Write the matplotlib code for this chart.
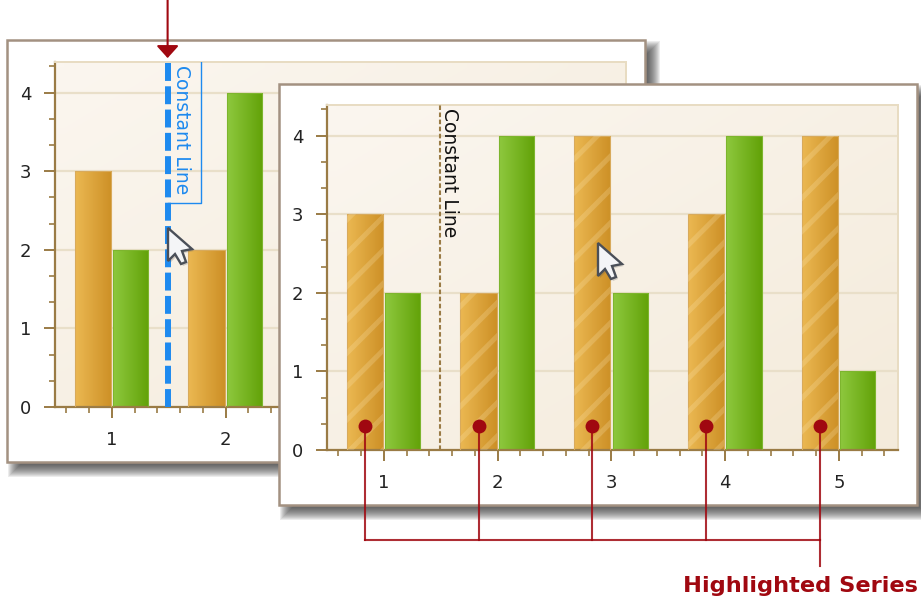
import numpy as np
import matplotlib
matplotlib.use('Agg')
import matplotlib.pyplot as plt
from matplotlib.patches import Rectangle, Polygon

W, H = 921, 603

categories = [1, 2, 3, 4, 5]
orange_values = [3, 2, 4, 3, 4]
green_values = [2, 4, 2, 4, 1]
constant_value = 1.49
marker_level = 0.31
callout_level = -1.15
callout_end = -1.47

AXIS_COLOR = '#9A7B45'
GRID_COLOR = '#E9DFC9'
BLUE = '#1E8AEF'
RED = '#A00810'

plt.rcParams['font.family'] = 'DejaVu Sans'
plt.rcParams['hatch.linewidth'] = 3.6


def pixel_axes(fig, left, top, right, bottom, zorder):
    ax = fig.add_axes([left / W, 1 - bottom / H, (right - left) / W, (bottom - top) / H])
    ax.set_zorder(zorder)
    return ax


def overlay_axes(fig, zorder):
    ax = pixel_axes(fig, 0, 0, W, H, zorder)
    ax.set_xlim(0, W)
    ax.set_ylim(H, 0)
    ax.axis('off')
    ax.patch.set_alpha(0)
    return ax


def draw_panel(ax, left, top, right, bottom):
    # soft drop shadow built from stacked translucent rectangles
    for grow in range(9, -7, -1):
        ax.add_patch(Rectangle((left + 10 - grow, top + 10 - grow),
                               right - left - 4 + 2 * grow, bottom - top - 4 + 2 * grow,
                               fc='#303030', ec='none', alpha=0.09))
    ax.add_patch(Rectangle((left, top), right - left, bottom - top,
                           fc='white', ec='#A39181', lw=1.8))


def gradient_bars(ax, xs, values, width, left_color, right_color, edge):
    ramp = np.linspace(0, 1, 64)[None, :, None]
    c0 = np.array(matplotlib.colors.to_rgb(left_color))[None, None, :]
    c1 = np.array(matplotlib.colors.to_rgb(right_color))[None, None, :]
    image = c0 * (1 - ramp) + c1 * ramp
    bars = ax.bar(xs, values, width=width, color='none', edgecolor=edge, lw=0.8, zorder=3)
    for bar in bars:
        x, w, h = bar.get_x(), bar.get_width(), bar.get_height()
        im = ax.imshow(image, extent=[x, x + w, 0, h], aspect='auto',
                       interpolation='bilinear', zorder=2)
        im.set_clip_path(bar)
    return bars


def draw_chart(ax, hatched):
    # plot area background, light towards the upper left
    yy, xx = np.mgrid[0:1:32j, 0:1:32j]
    shade = (xx * 0.5 + yy * 0.5)[..., None]
    c0 = np.array(matplotlib.colors.to_rgb('#FBF6EF'))
    c1 = np.array(matplotlib.colors.to_rgb('#F4EBDB'))
    ax.imshow(c0 * (1 - shade) + c1 * shade, extent=[0, 1, 0, 1], origin='upper',
              transform=ax.transAxes, aspect='auto', interpolation='bilinear', zorder=0)

    xs = np.array(categories, dtype=float)
    gradient_bars(ax, xs - 0.168, orange_values, 0.32, '#EBB852', '#CD9026', '#D8AA5C')
    gradient_bars(ax, xs + 0.165, green_values, 0.31, '#8EC83E', '#62A208', '#7DB52E')
    if hatched:
        ax.bar(xs - 0.168, orange_values, width=0.32, facecolor='none',
               edgecolor=(1, 0.93, 0.75, 0.22), hatch='/', lw=0, zorder=4)

    ax.set_xlim(0.5, 5.52)
    ax.set_ylim(0, 4.39)
    ax.set_xticks(categories)
    ax.set_yticks([0, 1, 2, 3, 4])
    ax.set_xticks(np.arange(0.6, 5.5, 0.2), minor=True)
    ax.set_yticks(np.arange(0, 4.39, 1 / 3), minor=True)
    ax.grid(True, axis='y', which='major', color=GRID_COLOR, lw=1.6, zorder=1)
    ax.set_axisbelow(True)
    ax.tick_params(axis='both', which='major', length=8, width=1.4, color=AXIS_COLOR,
                   labelsize=13, pad=9, labelcolor='#222222')
    ax.tick_params(axis='both', which='minor', length=4, width=1.2, color=AXIS_COLOR)
    ax.spines['left'].set(color=AXIS_COLOR, lw=1.6)
    ax.spines['bottom'].set(color=AXIS_COLOR, lw=1.6)
    ax.spines['top'].set(color='#E8DCC2', lw=1.4)
    ax.spines['right'].set(color='#E8DCC2', lw=1.4)


def draw_cursor(ax, x, y):
    shape = np.array([[0, 0], [0, 33], [7, 26], [13, 36], [18, 34], [14, 23], [24, 21]])
    ax.add_patch(Polygon(shape + [x + 2, y + 2], closed=True, fc='#555555', ec='none', alpha=0.25))
    ax.add_patch(Polygon(shape + [x, y], closed=True, fc='#F4F5F7', ec='#4A4F58', lw=1.7))


fig = plt.figure(figsize=(W / 100, H / 100), dpi=100, facecolor='white')

# back chart
back_panel = overlay_axes(fig, 0)
draw_panel(back_panel, 7, 40, 645, 462)

back = pixel_axes(fig, 55, 62, 626, 407, 1)
draw_chart(back, hatched=False)
back.plot([constant_value, constant_value], [0, 4.39], color=BLUE, lw=4.3,
          dashes=(3.0, 0.9), dash_capstyle='butt', zorder=5, clip_on=False)
back.plot([constant_value, constant_value + 0.29, constant_value + 0.29],
          [2.6, 2.6, 4.39], color=BLUE, lw=1.0, zorder=5)
back.annotate('Constant Line', xy=(constant_value, 4.39), xytext=(3.5, -2),
              textcoords='offset points', rotation=270, ha='left', va='top',
              fontsize=13.5, color=BLUE, zorder=6)
back.annotate('', xy=(constant_value, 4.44), xytext=(constant_value, 5.2),
              annotation_clip=False,
              arrowprops=dict(arrowstyle='-|>,head_width=0.45,head_length=0.5',
                              mutation_scale=15, color=RED, lw=1.5, shrinkA=0, shrinkB=0))

# front chart
front_panel = overlay_axes(fig, 2)
draw_panel(front_panel, 279, 84, 917, 505)

front = pixel_axes(fig, 327, 105, 898, 450, 3)
draw_chart(front, hatched=True)
front.plot([constant_value, constant_value], [0, 4.39], color=AXIS_COLOR, lw=1.5,
           dashes=(2.2, 1.2), zorder=5)
front.annotate('Constant Line', xy=(constant_value, 4.39), xytext=(0.5, -2),
               textcoords='offset points', rotation=270, ha='left', va='top',
               fontsize=13.5, color='#111111', zorder=6)

# callout joining the highlighted series to its caption
marker_x = np.array(categories) - 0.168
for x in marker_x:
    front.plot([x, x], [marker_level, callout_level], color=RED, lw=1.5, alpha=0.85,
               clip_on=False, zorder=7)
front.plot(marker_x, [marker_level] * len(marker_x), 'o', color=RED, ms=10, mew=0,
           clip_on=False, zorder=8)
front.plot([marker_x[0], marker_x[-1]], [callout_level, callout_level], color=RED, lw=1.5,
           alpha=0.85, clip_on=False, zorder=7)
front.plot([marker_x[-1], marker_x[-1]], [callout_level, callout_end], color=RED, lw=1.5,
           alpha=0.85, clip_on=False, zorder=7)

# top layer for cursors and the caption
top = overlay_axes(fig, 4)
draw_cursor(top, 168, 228)
draw_cursor(top, 598, 243)
top.text(918, 586, 'Highlighted Series', color=RED, fontsize=16.2, fontweight='bold',
         ha='right', va='center')

fig.savefig('out.png', dpi=100)
